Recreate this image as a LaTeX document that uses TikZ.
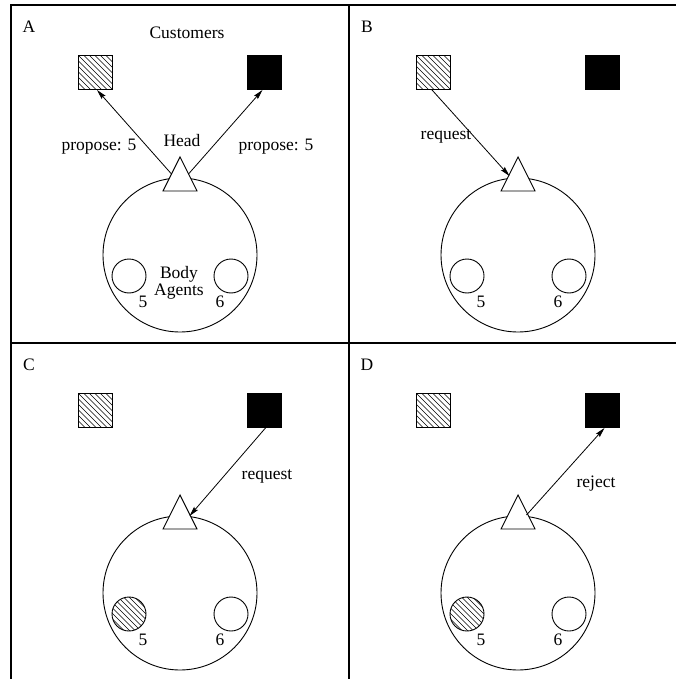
\documentclass[tikz,border=0pt]{standalone}
\usepackage{fontspec}
\setmainfont{Liberation Serif}
\usetikzlibrary{arrows.meta}
\begin{document}
\begin{tikzpicture}[x=1pt,y=-1pt,
  txt/.style={inner sep=0pt,font=\fontsize{17.5}{20}\selectfont},
  sq/.style={draw,line width=0.9pt,minimum size=34pt,inner sep=0pt},
  blacksq/.style={sq,fill=black},
  hatch/.style={path picture={\foreach \k in {-60,-54.5,...,60}{\draw[line width=0.6pt] ([xshift=\k pt]path picture bounding box.center) ++(-40pt,40pt) -- ++(80pt,-80pt);}}},
  hsq/.style={sq,hatch},
  body/.style={draw,circle,line width=0.9pt,minimum size=154pt,inner sep=0pt},
  agent/.style={draw,circle,line width=0.9pt,minimum size=34pt,inner sep=0pt},
  hagent/.style={agent,hatch},
  tri/.style={draw,fill=white,line width=0.9pt,line join=miter},
  arr/.style={line width=0.8pt,-{Stealth[length=10pt,width=5pt,inset=1.5pt]}},
  frame/.style={line width=1.3pt}
]
\useasboundingbox (0,0) rectangle (676,679);
\fill[white] (0,0) rectangle (676,679);
% frame
\draw[frame] (11,679) -- (11,5) -- (676,5);
\draw[frame] (11,343) -- (676,343);
\draw[frame] (349,5) -- (349,679);

% panel builder
\foreach \p/\dx/\dy/\lab in {A/0/0/A,B/338/0/B,C/0/338/C,D/338/338/D}{
  \begin{scope}[shift={(\dx,\dy)}]
    \node[txt] (lab\p) at (29,27) {\lab};
    \node[hsq] (h\p) at (95,72.5) {};
    \node[blacksq] (b\p) at (264.5,72.5) {};
    \node[body] (body\p) at (180,255) {};
    \draw[tri] (180,157) -- (197,191) -- (163,191) -- cycle;
    \coordinate (apex\p) at (180,157);
    \coordinate (tl\p) at (171.5,174);
    \coordinate (tr\p) at (188.5,174);
    \node[txt] (n5\p) at (143,302) {5};
    \node[txt] (n6\p) at (220,302) {6};
  \end{scope}
}
% body agents
\node[agent] (a5A) at (129,276) {};
\node[agent] (a6A) at (231,276) {};
\node[agent] (a5B) at (467,276) {};
\node[agent] (a6B) at (569,276) {};
\node[hagent] (a5C) at (129,614) {};
\node[agent] (a6C) at (231,614) {};
\node[hagent] (a5D) at (467,614) {};
\node[agent] (a6D) at (569,614) {};

% panel A texts and arrows
\node[txt] (cust) at (187,33) {Customers};
\node[txt] (head) at (182,141) {Head};
\node[txt] (bodyt) at (179,274) {Body};
\node[txt] (agt) at (179,292) {Agents};
\node[txt] (p1) at (99,147) {propose: 5};
\node[txt] (p2) at (276,147) {propose: 5};
\draw[arr] (tlA) -- ([xshift=2pt]hA.south);
\draw[arr] (trA) -- ([xshift=-2pt]bA.south);

% panel B
\node[txt] (reqB) at (446,136) {request};
\draw[arr] ([xshift=-1pt]hB.south) -- ([yshift=-2pt]tlB);

% panel C
\node[txt] (reqC) at (267,476) {request};
\draw[arr] ([xshift=1pt]bC.south) -- ([yshift=-4pt,xshift=1pt]trC);

% panel D
\node[txt] (rejD) at (596,484) {reject};
\draw[arr] ([yshift=-3pt]trD) -- ([xshift=2pt]bD.south);
\end{tikzpicture}
\end{document}
